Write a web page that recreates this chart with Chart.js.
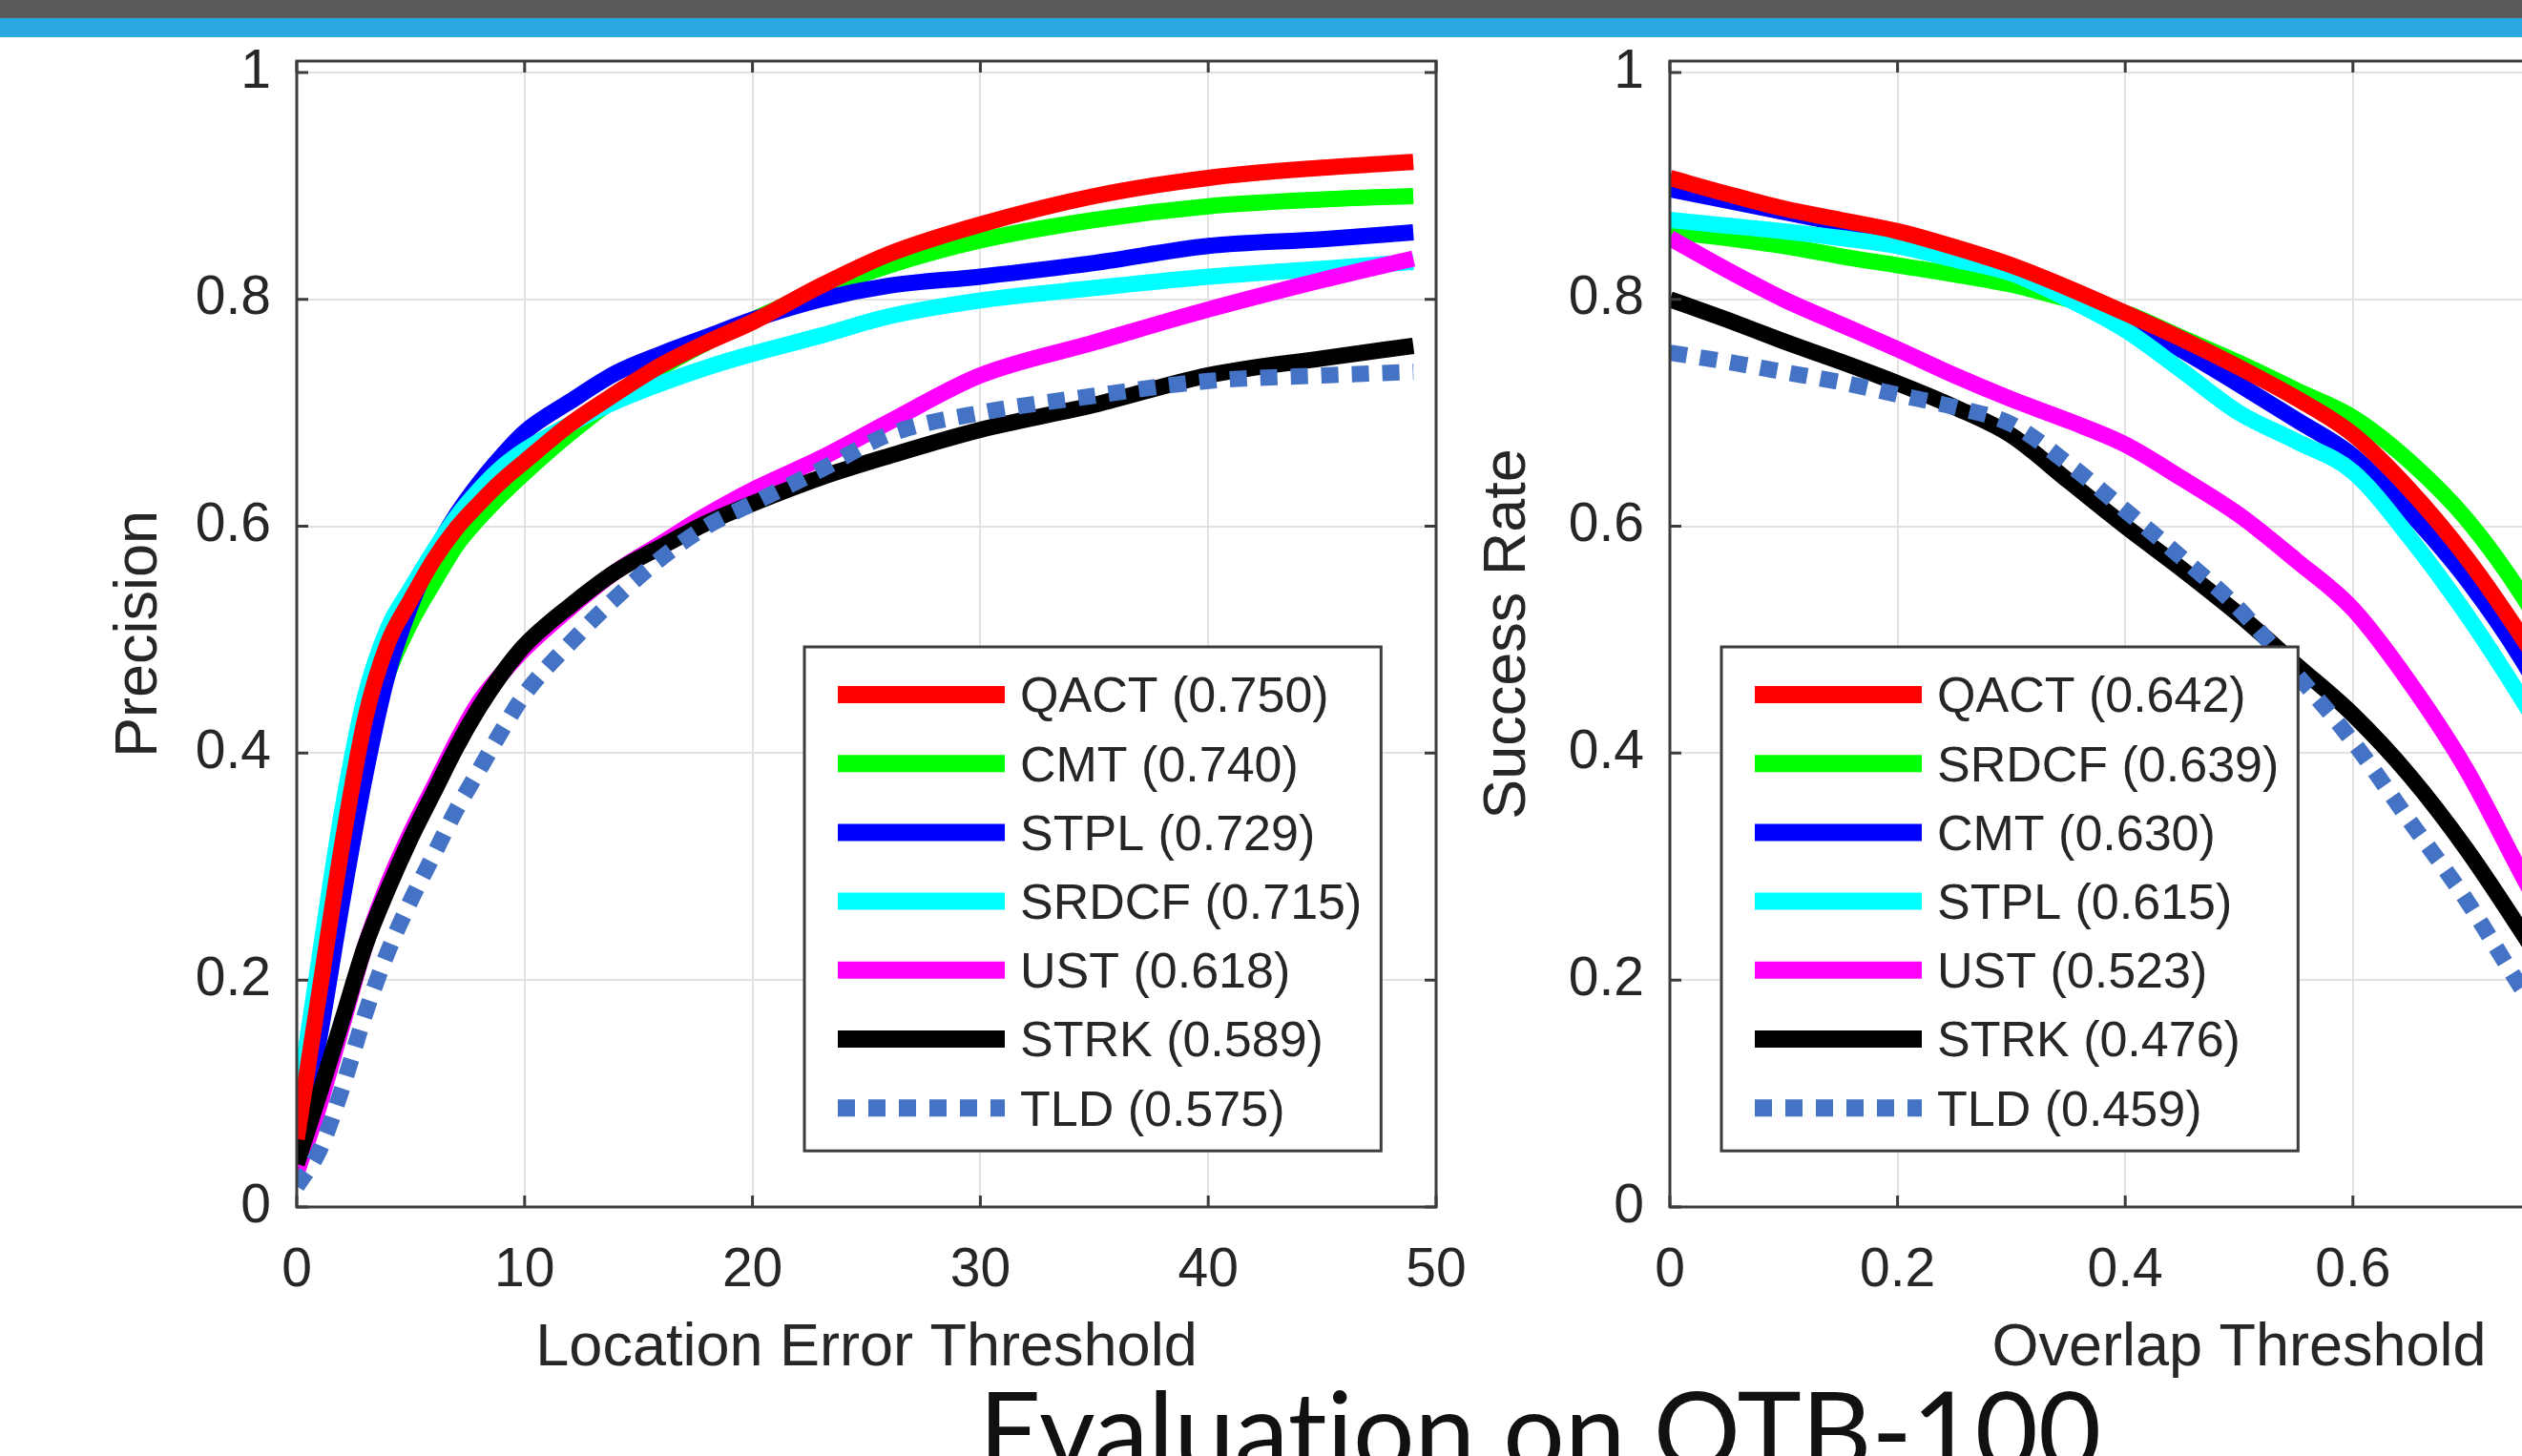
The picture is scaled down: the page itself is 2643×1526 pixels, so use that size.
<!DOCTYPE html>
<html>
<head>
<meta charset="utf-8">
<script src="https://cdn.jsdelivr.net/npm/chart.js@4.4.0/dist/chart.umd.min.js"></script>
<style>
  html, body { margin: 0; padding: 0; background: #fff; overflow: hidden; width: 2643px; height: 1526px; position: relative; }
  #barTop { position: absolute; left: 0; top: 0; width: 2643px; height: 19px; background: #5a5a5a; }
  #barBlue { position: absolute; left: 0; top: 19px; width: 2643px; height: 20px; background: #2aa6e0; }
  #precision { position: absolute; left: 0; top: 0; }
  #success { position: absolute; left: 1530px; top: 0; }
  #title { position: absolute; top: 1440px; left: 0; width: 3228px; text-align: center; font-family: Lato, sans-serif; font-size: 114px; line-height: 1; color: #111; white-space: nowrap; font-variant-ligatures: none; }
</style>
</head>
<body>
<div id="barTop"></div>
<div id="barBlue"></div>
<canvas id="precision" width="1540" height="1460"></canvas>
<canvas id="success" width="1500" height="1460"></canvas>
<div id="title">Evaluation on OTB-100</div>
<script>
// precision plot (location error threshold)
const precThresholds = [0, 1, 2, 3, 4, 5, 6, 7, 8, 9, 10, 12, 14, 16, 18, 20, 23, 26, 30, 35, 40, 45, 49];
const precNames = ['QACT', 'CMT', 'STPL', 'SRDCF', 'UST', 'STRK', 'TLD'];
const precScores = ['0.750', '0.740', '0.729', '0.715', '0.618', '0.589', '0.575'];
const precQACT  = [0.06, 0.19, 0.32, 0.43, 0.497, 0.535, 0.57, 0.598, 0.62, 0.64, 0.657, 0.69, 0.717, 0.742, 0.762, 0.78, 0.812, 0.84, 0.866, 0.891, 0.907, 0.916, 0.921];
const precCMT   = [0.06, 0.18, 0.30, 0.40, 0.47, 0.515, 0.55, 0.583, 0.607, 0.628, 0.647, 0.682, 0.713, 0.74, 0.762, 0.782, 0.808, 0.83, 0.852, 0.87, 0.882, 0.888, 0.891];
const precSTPL  = [0.05, 0.15, 0.27, 0.38, 0.47, 0.53, 0.575, 0.61, 0.638, 0.662, 0.683, 0.71, 0.735, 0.752, 0.767, 0.782, 0.80, 0.812, 0.82, 0.832, 0.847, 0.853, 0.859];
const precSRDCF = [0.085, 0.22, 0.35, 0.45, 0.51, 0.545, 0.578, 0.608, 0.632, 0.652, 0.667, 0.69, 0.71, 0.726, 0.74, 0.752, 0.768, 0.785, 0.799, 0.81, 0.82, 0.827, 0.833];
const precUST   = [0.03, 0.09, 0.16, 0.23, 0.285, 0.33, 0.37, 0.41, 0.445, 0.47, 0.492, 0.528, 0.56, 0.585, 0.61, 0.632, 0.66, 0.692, 0.733, 0.762, 0.791, 0.817, 0.836];
const precSTRK  = [0.038, 0.10, 0.165, 0.23, 0.28, 0.325, 0.365, 0.405, 0.44, 0.47, 0.495, 0.53, 0.56, 0.582, 0.603, 0.62, 0.643, 0.662, 0.685, 0.707, 0.733, 0.748, 0.759];
const precTLD   = [0.018, 0.05, 0.105, 0.17, 0.225, 0.27, 0.31, 0.35, 0.385, 0.42, 0.452, 0.497, 0.537, 0.572, 0.6, 0.62, 0.65, 0.681, 0.70, 0.715, 0.728, 0.733, 0.736];
const precXTicks = [0, 10, 20, 30, 40, 50];

// success plot (overlap threshold)
const succThresholds = [0, 0.05, 0.1, 0.15, 0.2, 0.25, 0.3, 0.35, 0.4, 0.45, 0.5, 0.55, 0.6, 0.65, 0.7, 0.75, 0.8, 0.85, 0.9, 0.95, 1];
const succNames = ['QACT', 'SRDCF', 'CMT', 'STPL', 'UST', 'STRK', 'TLD'];
const succScores = ['0.642', '0.639', '0.630', '0.615', '0.523', '0.476', '0.459'];
const succQACT  = [0.907, 0.893, 0.88, 0.87, 0.86, 0.846, 0.83, 0.81, 0.788, 0.765, 0.74, 0.713, 0.681, 0.632, 0.572, 0.5, 0.42, 0.31, 0.18, 0.06, 0];
const succSRDCF = [0.86, 0.854, 0.847, 0.838, 0.83, 0.822, 0.813, 0.8, 0.788, 0.766, 0.744, 0.72, 0.696, 0.657, 0.606, 0.537, 0.45, 0.34, 0.2, 0.07, 0];
const succCMT   = [0.897, 0.887, 0.877, 0.867, 0.857, 0.843, 0.827, 0.806, 0.783, 0.755, 0.725, 0.694, 0.662, 0.612, 0.553, 0.48, 0.39, 0.28, 0.16, 0.05, 0];
const succSTPL  = [0.87, 0.865, 0.86, 0.854, 0.847, 0.835, 0.823, 0.8, 0.773, 0.737, 0.70, 0.675, 0.648, 0.59, 0.522, 0.445, 0.36, 0.26, 0.15, 0.05, 0];
const succUST   = [0.854, 0.826, 0.80, 0.778, 0.756, 0.733, 0.712, 0.693, 0.672, 0.642, 0.61, 0.57, 0.527, 0.462, 0.385, 0.29, 0.2, 0.12, 0.06, 0.02, 0];
const succSTRK  = [0.80, 0.782, 0.763, 0.745, 0.726, 0.705, 0.68, 0.64, 0.60, 0.562, 0.522, 0.478, 0.434, 0.38, 0.315, 0.24, 0.16, 0.09, 0.04, 0.01, 0];
const succTLD   = [0.753, 0.745, 0.736, 0.727, 0.716, 0.705, 0.69, 0.655, 0.614, 0.572, 0.527, 0.47, 0.41, 0.34, 0.27, 0.19, 0.12, 0.06, 0.03, 0.01, 0];
const succXTicks = [0, 0.2, 0.4, 0.6, 0.8, 1];

const yTicks = [0, 0.2, 0.4, 0.6, 0.8, 1];

// colours go by rank, matlab style
const rankColors = ['#ff0000', '#00ff00', '#0000ff', '#00ffff', '#ff00ff', '#000000', '#4472c4'];
const textColor = '#262626';
const FONT = '"Liberation Sans", Arial, sans-serif';

// box with inward ticks + legend drawn inside the axes
const matlabBox = {
  id: 'matlabBox',
  afterDatasetsDraw(chart, args, opts) {
    const { ctx, chartArea: a, scales } = chart;
    ctx.save();
    ctx.strokeStyle = '#3c3c3c';
    ctx.lineWidth = 3;
    ctx.strokeRect(a.left, a.top, a.right - a.left, a.bottom - a.top);
    const len = 12;
    ctx.beginPath();
    scales.x.ticks.forEach(t => {
      const px = scales.x.getPixelForValue(t.value);
      ctx.moveTo(px, a.bottom); ctx.lineTo(px, a.bottom - len);
      ctx.moveTo(px, a.top); ctx.lineTo(px, a.top + len);
    });
    scales.y.ticks.forEach(t => {
      const py = scales.y.getPixelForValue(t.value);
      ctx.moveTo(a.left, py); ctx.lineTo(a.left + len, py);
      ctx.moveTo(a.right, py); ctx.lineTo(a.right - len, py);
    });
    ctx.stroke();

    // legend
    ctx.font = '52px ' + FONT;
    const sets = chart.data.datasets;
    const textW = Math.max(...sets.map(d => ctx.measureText(d.label).width));
    const rowH = 72.2;
    const x0 = a.left + opts.dx, y0 = a.top + opts.dy;
    const w = 35 + 175 + 16 + textW + 20;
    const h = 52 + rowH * (sets.length - 1) + 43;
    ctx.fillStyle = '#fff';
    ctx.fillRect(x0, y0, w, h);
    ctx.lineWidth = 3;
    ctx.strokeStyle = '#3c3c3c';
    ctx.strokeRect(x0, y0, w, h);
    sets.forEach((d, i) => {
      const cy = y0 + 52 + i * rowH;
      ctx.beginPath();
      ctx.setLineDash(d.borderDash || []);
      ctx.lineCap = 'butt';
      ctx.strokeStyle = d.borderColor;
      ctx.lineWidth = 18;
      ctx.moveTo(x0 + 35, cy - 2);
      ctx.lineTo(x0 + 210, cy - 2);
      ctx.stroke();
      ctx.setLineDash([]);
      ctx.fillStyle = textColor;
      ctx.textAlign = 'left';
      ctx.textBaseline = 'middle';
      ctx.fillText(d.label, x0 + 226, cy + 2);
    });
    ctx.restore();
  }
};

function buildSets(xs, names, scores, series) {
  return series.map((vals, i) => ({
    label: names[i] + ' (' + scores[i] + ')',
    data: xs.map((x, j) => ({ x: x, y: vals[j] })),
    borderColor: rankColors[i],
    borderWidth: 17,
    borderDash: i === 6 ? [18, 14] : [],
    borderCapStyle: 'butt',
    borderJoinStyle: 'round',
    pointRadius: 0,
    fill: false,
    cubicInterpolationMode: 'monotone',
    order: i === 0 ? 0 : 7 - i
  }));
}

function axisX(xmax, ticks, title, height) {
  return {
    type: 'linear', min: 0, max: xmax,
    afterBuildTicks: s => { s.ticks = ticks.map(v => ({ value: v })); },
    afterFit: s => { s.height = height; s.paddingLeft = 0; s.paddingRight = 0; },
    grid: { color: '#e2e2e2', lineWidth: 2, drawTicks: false },
    border: { display: false },
    ticks: { font: { family: FONT, size: 57 }, color: textColor, padding: 33, maxRotation: 0, autoSkip: false,
      callback: v => String(v) },
    title: { display: true, text: title, font: { family: FONT, size: 63 }, color: textColor, padding: { top: 0, bottom: 9 } }
  };
}

function axisY(title, width, titlePad) {
  return {
    type: 'linear', min: 0, max: 1.01,
    afterBuildTicks: s => { s.ticks = yTicks.map(v => ({ value: v })); },
    afterFit: s => { s.width = width; },
    grid: { color: '#e2e2e2', lineWidth: 2, drawTicks: false },
    border: { display: false },
    ticks: { font: { family: FONT, size: 57 }, color: textColor, padding: 27,
      callback: v => (v === 0 || v === 1) ? String(v) : v.toFixed(1) },
    title: { display: true, text: title, font: { family: FONT, size: 63 }, color: textColor, padding: { top: titlePad, bottom: 0 } }
  };
}

new Chart(document.getElementById('precision'), {
  type: 'line',
  data: {
    datasets: buildSets(precThresholds, precNames, precScores,
      [precQACT, precCMT, precSTPL, precSRDCF, precUST, precSTRK, precTLD])
  },
  options: {
    responsive: false,
    animation: false,
    devicePixelRatio: 1,
    layout: { padding: { top: 64, right: 35, left: 0, bottom: 0 } },
    scales: {
      x: axisX(50, precXTicks, 'Location Error Threshold', 195),
      y: axisY('Precision', 311, 109)
    },
    plugins: {
      legend: { display: false },
      tooltip: { enabled: false },
      matlabBox: { dx: 532, dy: 614 }
    }
  },
  plugins: [matlabBox]
});

new Chart(document.getElementById('success'), {
  type: 'line',
  data: {
    datasets: buildSets(succThresholds, succNames, succScores,
      [succQACT, succSRDCF, succCMT, succSTPL, succUST, succSTRK, succTLD])
  },
  options: {
    responsive: false,
    animation: false,
    devicePixelRatio: 1,
    layout: { padding: { top: 64, right: 87, left: 0, bottom: 0 } },
    scales: {
      x: axisX(1, succXTicks, 'Overlap Threshold', 195),
      y: axisY('Success Rate', 220, 13)
    },
    plugins: {
      legend: { display: false },
      tooltip: { enabled: false },
      matlabBox: { dx: 54, dy: 614 }
    }
  },
  plugins: [matlabBox]
});
</script>
</body>
</html>
